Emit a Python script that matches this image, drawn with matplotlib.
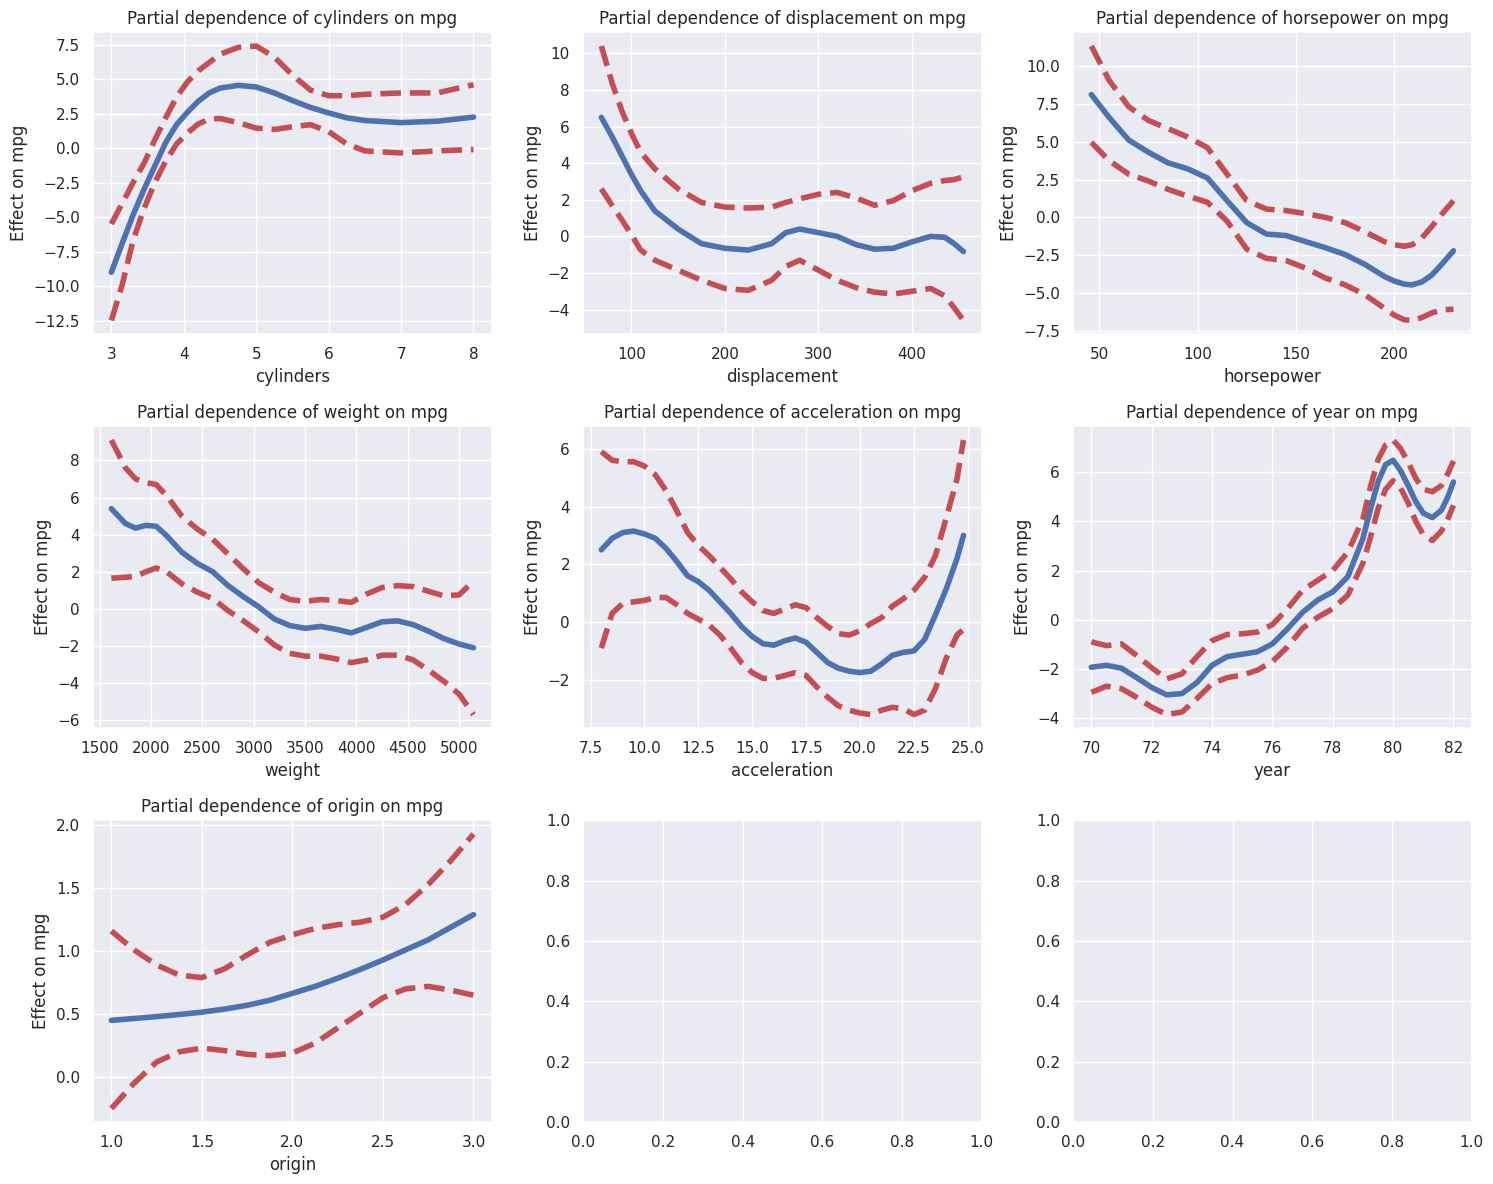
import numpy as np
import matplotlib
matplotlib.use("Agg")
import matplotlib.pyplot as plt
import seaborn as sns

sns.set()

# ------------------ PARTIAL DEPENDENCE VALUES ------------------
cyl_x = [3.0, 3.15, 3.3, 3.45, 3.6, 3.75, 3.9, 4.05, 4.2, 4.35, 4.5, 4.75, 5.0, 5.25, 5.5, 5.75, 6.0, 6.25, 6.5, 7.0, 7.5, 8.0]
cyl_pd = [-9.0, -6.9, -4.85, -3.0, -1.3, 0.4, 1.7, 2.6, 3.4, 4.0, 4.35, 4.55, 4.43, 4.0, 3.45, 2.95, 2.55, 2.2, 2.0, 1.85, 1.95, 2.25]
cyl_lo = [-12.5, -9.9, -6.7, -4.4, -2.5, -0.95, 0.3, 1.1, 1.75, 2.1, 2.15, 1.85, 1.45, 1.35, 1.55, 1.7, 1.2, 0.3, -0.2, -0.35, -0.2, -0.1]
cyl_hi = [-5.5, -4.0, -2.5, -1.1, 0.6, 2.2, 3.7, 4.8, 5.6, 6.2, 6.8, 7.3, 7.4, 6.6, 5.3, 4.2, 3.8, 3.8, 3.9, 4.0, 4.0, 4.6]

disp_x = [68, 80, 90, 100, 110, 125, 150, 175, 200, 225, 250, 265, 280, 300, 320, 340, 360, 380, 400, 420, 435, 445, 455]
disp_pd = [6.5, 5.4, 4.4, 3.4, 2.5, 1.4, 0.4, -0.4, -0.65, -0.75, -0.4, 0.2, 0.4, 0.2, 0.0, -0.45, -0.7, -0.65, -0.3, 0.0, -0.05, -0.4, -0.83]
disp_lo = [2.6, 1.65, 0.9, 0.1, -0.75, -1.3, -1.85, -2.4, -2.85, -2.95, -2.4, -1.65, -1.3, -1.85, -2.4, -2.8, -3.05, -3.15, -3.0, -2.85, -3.25, -3.9, -4.6]
disp_hi = [10.4, 8.3, 6.85, 5.65, 4.6, 3.7, 2.6, 1.85, 1.6, 1.55, 1.6, 1.85, 2.05, 2.3, 2.4, 2.1, 1.7, 1.95, 2.5, 2.9, 3.05, 3.1, 3.25]

hp_x = [46, 55, 65, 75, 85, 95, 105, 115, 125, 135, 145, 155, 165, 175, 185, 195, 200, 205, 209, 214, 219, 224, 230]
hp_pd = [8.1, 6.6, 5.1, 4.3, 3.6, 3.2, 2.6, 1.1, -0.35, -1.1, -1.2, -1.6, -2.0, -2.45, -3.1, -3.9, -4.2, -4.4, -4.45, -4.25, -3.8, -3.1, -2.2]
hp_lo = [4.95, 3.75, 2.85, 2.4, 1.85, 1.4, 1.0, -0.25, -2.1, -2.7, -2.85, -3.35, -4.0, -4.45, -5.1, -6.0, -6.45, -6.75, -6.8, -6.6, -6.3, -6.1, -6.05]
hp_hi = [11.3, 9.05, 7.3, 6.4, 5.85, 5.3, 4.6, 2.85, 1.1, 0.55, 0.45, 0.25, 0.0, -0.35, -0.95, -1.6, -1.8, -1.9, -1.8, -1.35, -0.6, 0.2, 1.1]

wt_x = [1613, 1750, 1850, 1950, 2050, 2150, 2300, 2450, 2600, 2750, 2900, 3050, 3200, 3350, 3500, 3650, 3800, 3950, 4100, 4250, 4400, 4550, 4700, 4850, 5000, 5140]
wt_pd = [5.4, 4.6, 4.35, 4.5, 4.45, 3.95, 3.05, 2.45, 2.0, 1.25, 0.65, 0.1, -0.55, -0.9, -1.05, -0.95, -1.1, -1.3, -1.0, -0.7, -0.65, -0.85, -1.2, -1.6, -1.9, -2.1]
wt_lo = [1.65, 1.7, 1.75, 2.0, 2.2, 2.0, 1.35, 0.9, 0.55, -0.1, -0.65, -1.25, -1.95, -2.4, -2.55, -2.55, -2.7, -2.9, -2.75, -2.5, -2.5, -2.75, -3.3, -3.9, -4.6, -5.7]
wt_hi = [9.1, 7.6, 7.0, 6.8, 6.7, 6.1, 5.0, 4.3, 3.75, 2.95, 2.15, 1.4, 0.9, 0.5, 0.4, 0.5, 0.45, 0.35, 0.8, 1.15, 1.25, 1.2, 0.95, 0.7, 0.75, 1.5]

acc_x = [8.0, 8.5, 9.0, 9.5, 10.0, 10.5, 11.0, 11.5, 12.0, 12.5, 13.0, 13.5, 14.0, 14.5, 15.0, 15.5, 16.0, 16.5, 17.0, 17.5, 18.0, 18.5, 19.0, 19.5, 20.0, 20.5, 21.0, 21.5, 22.0, 22.5, 23.0, 23.5, 24.0, 24.5, 24.8]
acc_pd = [2.5, 2.9, 3.1, 3.15, 3.05, 2.9, 2.55, 2.1, 1.6, 1.4, 1.1, 0.7, 0.3, -0.15, -0.5, -0.75, -0.8, -0.65, -0.55, -0.7, -1.05, -1.4, -1.6, -1.7, -1.75, -1.7, -1.45, -1.15, -1.05, -1.0, -0.6, 0.25, 1.15, 2.2, 3.0]
acc_lo = [-0.9, 0.3, 0.65, 0.7, 0.75, 0.85, 0.85, 0.6, 0.3, 0.1, -0.1, -0.45, -0.9, -1.4, -1.75, -1.95, -1.95, -1.85, -1.75, -1.85, -2.25, -2.6, -2.9, -3.05, -3.15, -3.2, -3.05, -2.95, -3.0, -3.2, -3.05, -2.3, -1.25, -0.45, -0.25]
acc_hi = [5.9, 5.6, 5.55, 5.55, 5.4, 5.1, 4.55, 3.85, 3.1, 2.65, 2.3, 1.9, 1.5, 1.05, 0.7, 0.4, 0.3, 0.45, 0.6, 0.5, 0.15, -0.15, -0.4, -0.45, -0.3, -0.05, 0.15, 0.55, 0.8, 1.1, 1.55, 2.3, 3.6, 4.95, 6.3]

yr_x = [70, 70.5, 71, 71.5, 72, 72.5, 73, 73.5, 74, 74.5, 75, 75.5, 76, 76.5, 77, 77.5, 78, 78.5, 79, 79.25, 79.5, 79.75, 80, 80.25, 80.5, 80.75, 81, 81.3, 81.6, 81.8, 82]
yr_pd = [-1.93, -1.85, -1.97, -2.35, -2.75, -3.05, -3.0, -2.55, -1.85, -1.5, -1.4, -1.3, -0.98, -0.37, 0.3, 0.8, 1.13, 1.75, 3.3, 4.5, 5.6, 6.3, 6.48, 6.05, 5.45, 4.8, 4.33, 4.15, 4.45, 4.95, 5.6]
yr_lo = [-2.95, -2.7, -2.8, -3.15, -3.55, -3.85, -3.75, -3.2, -2.6, -2.35, -2.25, -2.05, -1.7, -1.1, -0.35, 0.1, 0.45, 1.0, 2.3, 3.35, 4.5, 5.3, 5.65, 5.35, 4.75, 4.0, 3.45, 3.22, 3.6, 4.05, 4.65]
yr_hi = [-0.9, -1.05, -0.98, -1.45, -1.95, -2.4, -2.2, -1.5, -0.85, -0.6, -0.57, -0.5, -0.2, 0.45, 1.2, 1.6, 2.0, 2.75, 4.1, 5.4, 6.5, 7.1, 7.3, 6.95, 6.4, 5.75, 5.3, 5.2, 5.45, 5.9, 6.45]

orig_x = [1.0, 1.125, 1.25, 1.375, 1.5, 1.625, 1.75, 1.875, 2.0, 2.125, 2.25, 2.375, 2.5, 2.625, 2.75, 2.875, 3.0]
orig_pd = [0.45, 0.465, 0.48, 0.497, 0.515, 0.54, 0.57, 0.61, 0.665, 0.72, 0.785, 0.855, 0.93, 1.01, 1.09, 1.19, 1.29]
orig_lo = [-0.25, -0.05, 0.12, 0.2, 0.23, 0.21, 0.18, 0.17, 0.19, 0.27, 0.39, 0.51, 0.63, 0.7, 0.72, 0.69, 0.65]
orig_hi = [1.16, 1.01, 0.89, 0.81, 0.79, 0.86, 0.97, 1.07, 1.13, 1.18, 1.21, 1.23, 1.27, 1.37, 1.53, 1.72, 1.93]

features = ["cylinders", "displacement", "horsepower", "weight", "acceleration", "year", "origin"]
curves = [
    (cyl_x, cyl_pd, cyl_lo, cyl_hi),
    (disp_x, disp_pd, disp_lo, disp_hi),
    (hp_x, hp_pd, hp_lo, hp_hi),
    (wt_x, wt_pd, wt_lo, wt_hi),
    (acc_x, acc_pd, acc_lo, acc_hi),
    (yr_x, yr_pd, yr_lo, yr_hi),
    (orig_x, orig_pd, orig_lo, orig_hi),
]

fig, axs = plt.subplots(3, 3, figsize=(15, 12))
axs = axs.flatten()
for i, (name, (x, pd_, lo, hi)) in enumerate(zip(features, curves)):
    ax = axs[i]
    ax.plot(x, pd_, 'b', lw=4)
    ax.plot(x, lo, 'r--', lw=4)
    ax.plot(x, hi, 'r--', lw=4)
    ax.set_title(f"Partial dependence of {name} on mpg")
    ax.set_xlabel(name)
    ax.set_ylabel("Effect on mpg")

plt.tight_layout()
plt.savefig("out.png", dpi=100, bbox_inches="tight")
